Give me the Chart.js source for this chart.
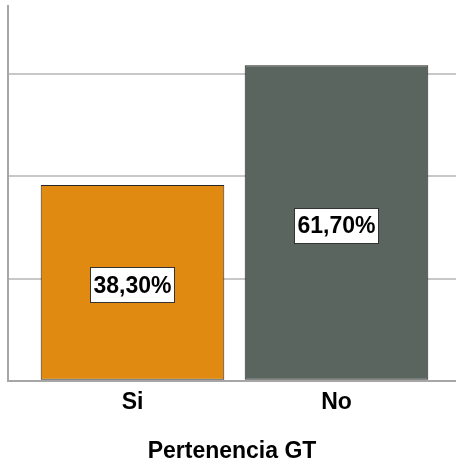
<!DOCTYPE html>
<html>
<head>
<meta charset="utf-8">
<script src="https://cdn.jsdelivr.net/npm/chart.js@4/dist/chart.umd.min.js"></script>
<style>
  html, body { margin: 0; padding: 0; background: #ffffff; }
  canvas { display: block; }
</style>
</head>
<body>
<canvas id="chart" width="456" height="465"></canvas>
<script>
// Pertenencia GT: percentage of respondents per answer
const categories = ['Si', 'No'];
const percentages = [38.3, 61.7];
const gridValues = [0, 20, 40, 60];
const barColors = ['#E08A12', '#5A655F'];

const FONT = '"Liberation Sans", Arial, sans-serif';

function formatPct(v) {
  return v.toFixed(2).replace('.', ',') + '%';
}

// Boxed value label in the middle of each bar
const boxedLabels = {
  id: 'boxedLabels',
  afterDatasetsDraw(chart) {
    const ctx = chart.ctx;
    const meta = chart.getDatasetMeta(0);
    ctx.save();
    ctx.font = 'bold 23px ' + FONT;
    ctx.textAlign = 'center';
    ctx.textBaseline = 'middle';
    meta.data.forEach((bar, i) => {
      const text = formatPct(percentages[i]);
      const w = Math.round(ctx.measureText(text).width + 7);
      const h = 36;
      const cx = bar.x;
      const cy = (bar.y + bar.base) / 2 + 3;
      const left = Math.round(cx - w / 2);
      const top = Math.round(cy - h / 2);
      ctx.fillStyle = '#ffffff';
      ctx.fillRect(left, top, w, h);
      ctx.strokeStyle = '#333333';
      ctx.lineWidth = 1;
      ctx.strokeRect(left + 0.5, top + 0.5, w - 1, h - 1);
      ctx.fillStyle = '#000000';
      ctx.fillText(text, cx, cy + 1);
    });
    ctx.restore();
  }
};

new Chart(document.getElementById('chart'), {
  type: 'bar',
  data: {
    datasets: [{
      data: categories.map((c, i) => ({ x: i, y: percentages[i] })),
      backgroundColor: barColors,
      borderColor: '#262626',
      borderWidth: 1,
      borderSkipped: false,
      categoryPercentage: 1,
      barPercentage: 0.9
    }]
  },
  options: {
    responsive: false,
    animation: false,
    layout: { padding: { left: 8, top: 6, right: 0, bottom: 0 } },
    plugins: { legend: { display: false }, tooltip: { enabled: false } },
    scales: {
      x: {
        type: 'linear',
        offset: false,
        min: -0.6103,
        max: 1.5858,
        afterBuildTicks(scale) {
          scale.ticks = categories.map((c, i) => ({ value: i }));
        },
        ticks: {
          callback: (v) => categories[v],
          color: '#000000',
          font: { family: FONT, size: 23, weight: 'bold' },
          padding: 8,
          maxRotation: 0
        },
        grid: { display: false, drawTicks: false, offset: false },
        border: { display: true, color: '#a6a6a6', width: 2 },
        title: {
          display: true,
          text: 'Pertenencia GT',
          color: '#000000',
          font: { family: FONT, size: 23, weight: 'bold' },
          padding: { top: 13, bottom: 0 }
        }
      },
      y: {
        min: 0,
        max: 73.3,
        afterBuildTicks(scale) {
          scale.ticks = gridValues.map(v => ({ value: v }));
        },
        ticks: { display: false },
        grid: { color: '#c8c8c8', lineWidth: 2, drawTicks: false },
        border: { display: true, color: '#a6a6a6', width: 2 }
      }
    }
  },
  plugins: [boxedLabels]
});
</script>
</body>
</html>
